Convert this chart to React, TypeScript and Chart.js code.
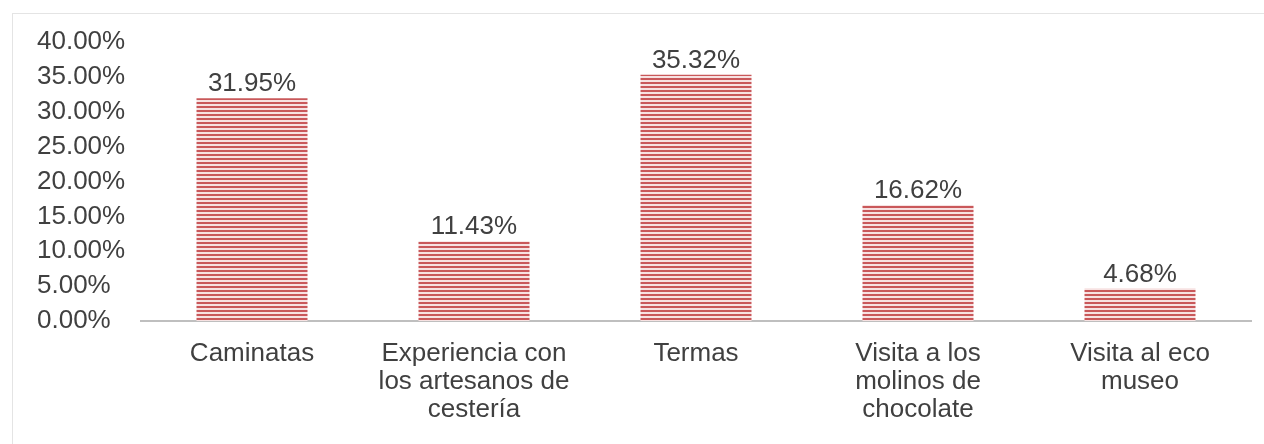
import React, { useEffect, useRef } from "react";
import { Chart, registerables } from "chart.js";

Chart.register(...registerables);

const categories: string[][] = [
  ["Caminatas"],
  ["Experiencia con", "los artesanos de", "cestería"],
  ["Termas"],
  ["Visita a los", "molinos de", "chocolate"],
  ["Visita al eco", "museo"],
];
const values: number[] = [31.95, 11.43, 35.32, 16.62, 4.68];
const yMax = 40;
const yStep = 5;

const FONT = "'Liberation Sans', Arial, sans-serif";
const TEXT = "#404040";
const FS = 26;

function makePattern(): CanvasPattern | string {
  const c = document.createElement("canvas");
  c.width = 4;
  c.height = 4;
  const ctx = c.getContext("2d");
  if (!ctx) return "#c9585a";
  ctx.fillStyle = "#f7e2e2";
  ctx.fillRect(0, 0, 4, 4);
  ctx.fillStyle = "#c9585a";
  ctx.fillRect(0, 0, 4, 2);
  const p = ctx.createPattern(c, "repeat");
  return p || "#c9585a";
}

const valueLabels = {
  id: "valueLabels",
  afterDatasetsDraw(chart: any) {
    const ctx = chart.ctx;
    const meta = chart.getDatasetMeta(0);
    ctx.save();
    ctx.font = `${FS}px ${FONT}`;
    ctx.fillStyle = TEXT;
    ctx.textAlign = "center";
    ctx.textBaseline = "bottom";
    meta.data.forEach((bar: any, i: number) => {
      ctx.fillText(values[i].toFixed(2) + "%", bar.x, bar.y - 1);
    });
    ctx.restore();
  },
};

export default function App() {
  const ref = useRef<HTMLCanvasElement | null>(null);
  useEffect(() => {
    document.body.style.margin = "0";
    document.body.style.overflow = "hidden";
    if (!ref.current) return;
    const chart = new Chart(ref.current, {
      type: "bar",
      data: {
        labels: categories,
        datasets: [
          {
            data: values,
            backgroundColor: makePattern() as any,
            borderWidth: 0,
            barPercentage: 0.5,
            categoryPercentage: 1,
          },
        ],
      },
      options: {
        responsive: false,
        animation: false,
        layout: { padding: { top: 28, right: 12, left: 24, bottom: 0 } },
        plugins: {
          legend: { display: false },
          tooltip: { enabled: false },
        },
        scales: {
          x: {
            grid: { display: false, drawTicks: false },
            border: { display: true, color: "#bfbfbf", width: 2 },
            ticks: {
              color: TEXT,
              font: { family: FONT, size: FS, lineHeight: 28 / FS },
              padding: 19,
              maxRotation: 0,
              autoSkip: false,
            },
            afterFit: (s: any) => {
              s.height = 123;
            },
          },
          y: {
            min: 0,
            max: yMax,
            grid: { display: false, drawTicks: false },
            border: { display: false },
            ticks: {
              stepSize: yStep,
              color: TEXT,
              crossAlign: "far",
              font: { family: FONT, size: FS },
              padding: 10,
              callback: (v: any) => Number(v).toFixed(2) + "%",
            },
            afterFit: (s: any) => {
              s.width = 104;
            },
          },
        },
      },
      plugins: [valueLabels],
    });
    return () => chart.destroy();
  }, []);

  return (
    <div style={{ width: 1264, height: 444, overflow: "hidden", position: "relative" }}>
      <div
        style={{
          position: "absolute",
          left: 12,
          top: 13,
          width: 1300,
          height: 500,
          border: "1px solid #e4e4e4",
          background: "#fff",
        }}
      >
        <canvas
          ref={ref}
          width={1250}
          height={430}
          style={{ position: "absolute", left: 0, top: 0, width: 1250, height: 430 }}
        />
      </div>
    </div>
  );
}
